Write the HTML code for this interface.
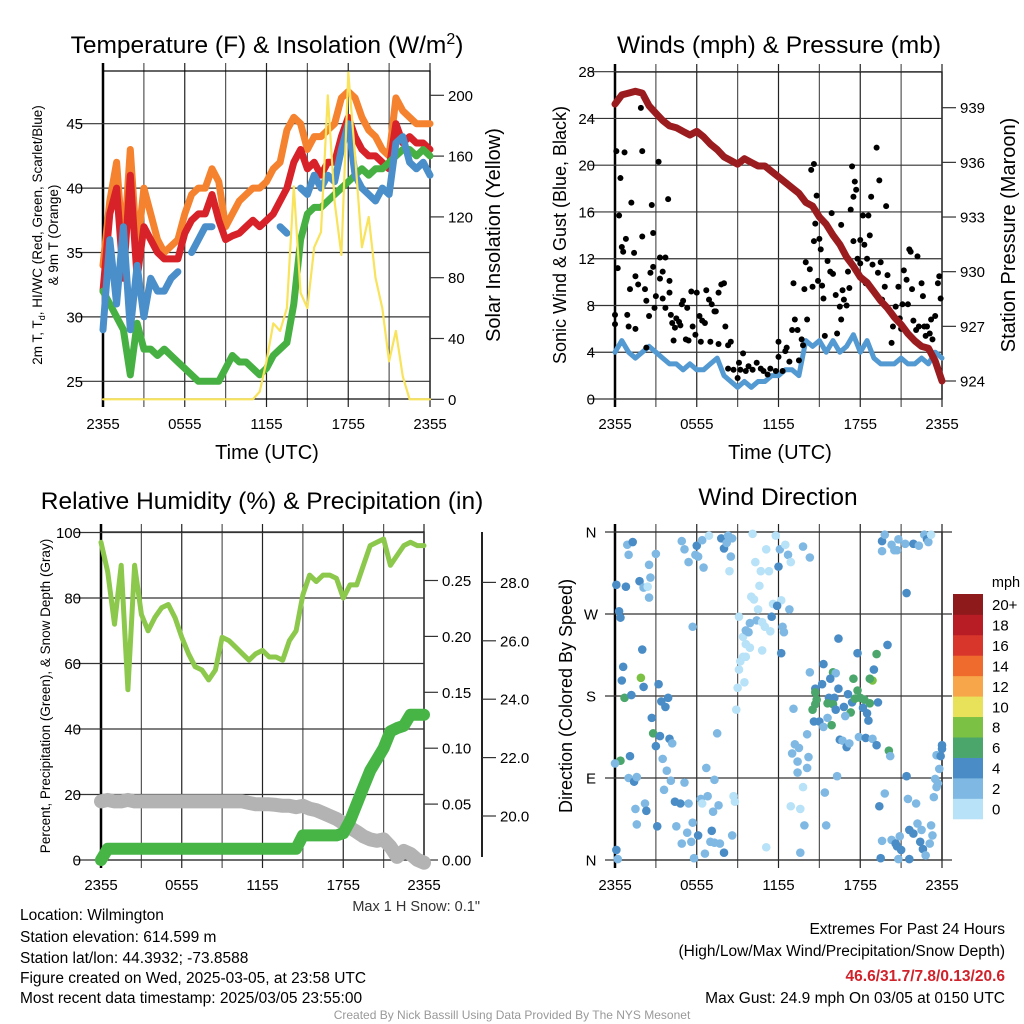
<!DOCTYPE html>
<html><head><meta charset="utf-8"><style>
html,body{margin:0;padding:0;background:#fff}
svg{display:block;font-family:"Liberation Sans",sans-serif}
</style></head><body>
<svg id="c" width="1024" height="1024" viewBox="0 0 1024 1024" xmlns="http://www.w3.org/2000/svg">
<rect width="1024" height="1024" fill="#fff"/>
<g id="marks"></g>
<g font-size="24.5" text-anchor="middle" fill="#000">
<text x="267" y="53">Temperature (F) &amp; Insolation (W/m<tspan dy="-9" font-size="16">2</tspan><tspan dy="9">)</tspan></text>
<text x="779" y="53">Winds (mph) &amp; Pressure (mb)</text>
<text x="262" y="509">Relative Humidity (%) &amp; Precipitation (in)</text>
<text x="778" y="505">Wind Direction</text>
</g>
<g font-size="20" text-anchor="middle">
<text x="267" y="459">Time (UTC)</text>
<text x="780" y="459">Time (UTC)</text>
</g>
<g font-size="13.5" text-anchor="middle">
<text transform="translate(42,235) rotate(-90)">2m T, T<tspan font-size="9" dy="3">d</tspan><tspan dy="-3">, HI/WC (Red, Green, Scarlet/Blue)</tspan></text>
<text transform="translate(58,235) rotate(-90)">&amp; 9m T (Orange)</text>
<text transform="translate(50,696) rotate(-90)">Percent, Precipitation (Green), &amp; Snow Depth (Gray)</text>
</g>
<text transform="translate(500,235) rotate(-90)" font-size="20" text-anchor="middle">Solar Insolation (Yellow)</text>
<text transform="translate(566,235) rotate(-90)" font-size="18" text-anchor="middle">Sonic Wind &amp; Gust (Blue, Black)</text>
<text transform="translate(1015,235) rotate(-90)" font-size="20" text-anchor="middle">Station Pressure (Maroon)</text>
<text transform="translate(572,696) rotate(-90)" font-size="18" text-anchor="middle">Direction (Colored By Speed)</text>
<text x="480" y="911" font-size="14.5" text-anchor="end" fill="#333">Max 1 H Snow: 0.1"</text>
<text x="1006" y="587" font-size="14.5" text-anchor="middle">mph</text>
<g font-size="15.5" fill="#000">
<text x="20" y="920">Location: Wilmington</text>
<text x="20" y="942">Station elevation: 614.599 m</text>
<text x="20" y="963">Station lat/lon: 44.3932; -73.8588</text>
<text x="20" y="983">Figure created on Wed, 2025-03-05, at 23:58 UTC</text>
<text x="20" y="1003">Most recent data timestamp: 2025/03/05 23:55:00</text>
</g>
<g font-size="15.5" text-anchor="end">
<text x="1005" y="934">Extremes For Past 24 Hours</text>
<text x="1005" y="956">(High/Low/Max Wind/Precipitation/Snow Depth)</text>
<text x="1005" y="981" fill="#d0222b" font-weight="bold">46.6/31.7/7.8/0.13/20.6</text>
<text x="1005" y="1003">Max Gust: 24.9 mph On 03/05 at 0150 UTC</text>
</g>
<text x="512" y="1019" font-size="12" fill="#999" text-anchor="middle">Created By Nick Bassill Using Data Provided By The NYS Mesonet</text>
</svg>
<script>
// ---- data (half-hour steps, hour = index*0.5) ----
const tempRed=[32,38,40,33,41,33,37,36,35,34.5,34.5,34.5,36.5,37.5,38,38,39.5,37.5,36,36.3,36.5,37,37.5,37,37.5,38,39,40,42,43,41.5,42,41,42,42,44,45.5,44,43,42.5,42.5,42,41.5,45,43.5,44,43.5,43.5,43];
const tempOrange=[34,39,42,35,43,35,40,38,36,35,35.5,36,38,39.5,40,40,41.5,40.5,37,38,39,39.5,40,40,40.5,41.5,42,44.5,45.5,45,43,44,44,44.5,45,47,47.5,47,45.5,44.5,44,43,42.5,47,46,45.5,45,45,45];
const tempBlue=[29,36,31,37,29,34,30,33,32,32,33,33.5,null,35,36,37,37,null,null,null,null,null,null,null,null,null,37,36.5,null,40,39.5,41,40,41,40.5,43,45,41,40,39.5,39,40,39.5,43.5,44,42,41.5,42,41];
const tempGreen=[32,31,30,29,25.5,29.5,27.5,27.5,27,27.5,27,26.5,26,25.5,25,25,25,25,26,27,26.5,26.5,26,25.5,26,27,27.5,28,31,36,38,38.5,38.5,39,39.5,40,40.5,41,41.5,41,41.5,41.5,42,42.5,43,43,42.5,43,42.5];
const solar=[0,0,0,0,0,0,0,0,0,0,0,0,0,0,0,0,0,0,0,0,0,0,0,5,25,50,45,60,140,70,60,100,110,200,130,95,215,160,100,120,80,60,25,45,15,0,0,0,0];
const windSpeed=[4,5,4,3.5,4,4.5,4,3.5,3,3,2.5,3,2.5,2.5,3,3.5,2,1.5,1,1.5,1,1.5,1.5,2,2,2.5,2.5,2,5,4.5,5,4,5,4,4.5,5.5,4,5,3.5,3,3,3,3.5,3,3,3.5,3,4,3.5];
const pressure=[939.2,939.7,939.8,939.9,939.8,939.1,938.7,938.3,938.0,937.9,937.7,937.5,937.7,937.4,937.0,936.7,936.3,936.1,935.9,936.2,936.0,935.8,935.8,935.5,935.2,934.9,934.6,934.3,933.8,933.6,933.0,932.6,932.0,931.5,930.8,930.3,929.7,929.4,928.9,928.4,928.0,927.5,927.1,926.6,926.2,925.9,925.8,925.1,924.0];
const gustHour=[0,0,0.1,0.2,0.3,0.4,0.5,0.6,0.7,0.8,0.9,1,1.1,1.2,1.4,1.5,1.5,1.7,1.9,2,2,2.2,2.3,2.3,2.5,2.6,2.7,2.8,2.8,2.9,3,3.2,3.3,3.3,3.5,3.5,3.7,3.7,3.9,4,4,4.1,4.2,4.3,4.4,4.5,4.7,4.8,4.9,5,5.2,5.3,5.4,5.6,5.7,5.9,6,6.2,6.3,6.4,6.6,6.7,6.9,7,7.1,7.3,7.4,7.6,7.6,7.8,8,8.1,8.3,8.3,8.5,8.7,9,9.1,9.2,9.4,9.6,9.8,10.1,10.4,10.7,10.9,11.2,11.4,11.8,12,12,12.3,12.5,12.6,12.8,13,13.1,13.2,13.4,13.5,13.7,13.8,14,13.9,14.1,14.3,14.4,14.5,14.6,14.6,14.7,14.8,14.9,15,15.1,15.2,15.3,15.4,15.6,15.8,15.9,16,16.2,16.3,16.5,16.6,16.6,16.7,16.8,17,17.1,17.2,17.3,17.4,17.5,17.5,17.6,17.7,17.8,18,18,18.2,18.3,18.4,18.5,18.6,18.7,18.8,18.9,19.2,19.3,19.4,19.5,19.6,19.8,19.9,20,20.3,20.4,20.6,20.8,20.9,21,21.1,21.2,21.4,21.5,21.6,21.7,21.8,21.9,22.1,22.2,22.3,22.5,22.6,22.7,22.8,22.9,23.1,23.2,23.3,23.5,23.7,23.8,23.9];
const gustSpeed=[7.2,6.4,21.2,11.2,15.7,18.9,13,12.6,21.1,13.7,7.2,6.2,9.4,16.8,12.5,10.5,6,9.8,24.9,13.9,21.2,9.4,8.4,4.4,7.1,10.8,16.6,11.3,14.2,7.8,8.8,20.3,12.1,10.3,10.9,8.6,12.1,7.8,17.1,10.1,9.1,7.2,6.5,5,6.1,6.9,6.6,6.3,8.1,8.4,5.1,7.8,5,9.2,6.2,5.5,9.1,7.1,4.9,6.7,6.5,9.3,8.5,4.9,8.1,7.5,7.5,4.7,9.1,9.8,9.9,6.2,4.6,2.6,4.9,2.5,1.8,3.1,2.5,3.9,2.4,2.8,2.5,3.1,2.6,2.4,2.1,2.6,2.4,3.6,4.9,2.4,4.1,4.4,3.2,5.9,9.9,6.8,5.9,3.3,5.1,4.6,11.7,9.4,6.8,11.1,19.6,9.6,20.1,13.5,15,17.4,10.1,13.7,12.8,9.7,8.6,5.4,11.8,10.9,15.9,10.7,8.9,5.6,7.9,14.9,6.8,9.3,8.5,8,10.9,9.5,16.2,19.9,17.3,13.5,18.6,17.9,12,11.6,13.6,15.7,13.2,9.9,12,15.7,14,17.3,11.5,21.5,10.8,18.7,11.7,8.5,9.6,16.5,10.6,4.8,6.2,7.9,9.6,6.9,6,8.1,11,10.2,8.1,12.8,12.6,9.4,6.7,5.9,12.2,6.2,9.9,8.8,6.2,5.4,6.2,5.6,6.8,5.1,7.1,9.9,10.5,8.6];
const humidity=[97,88,72,90,52,90,75,70,74,77,78,74,68,63,59,58,55,58,68,67,65,63,61,63,64,62,62,61,67,70,81,87,85,87,87,86,80,84,84,90,96,97,98,90,93,96,97,96,96];
const precip=[0,0.01,0.01,0.01,0.01,0.01,0.01,0.01,0.01,0.01,0.01,0.01,0.01,0.01,0.01,0.01,0.01,0.01,0.01,0.01,0.01,0.01,0.01,0.01,0.01,0.01,0.01,0.01,0.01,0.01,0.022,0.022,0.022,0.022,0.022,0.022,0.024,0.035,0.05,0.065,0.08,0.09,0.1,0.115,0.118,0.12,0.13,0.13,0.13];
const snowDepth=[20.5,20.55,20.5,20.5,20.55,20.5,20.5,20.5,20.5,20.5,20.5,20.5,20.5,20.5,20.5,20.5,20.5,20.5,20.5,20.5,20.5,20.5,20.45,20.4,20.4,20.4,20.38,20.35,20.35,20.3,20.35,20.25,20.2,20.1,20.0,19.9,19.75,19.6,19.46,19.3,19.2,19.15,19.2,18.95,18.6,18.8,18.7,18.5,18.4];
// wind direction observations: [hour, degrees, speed bin]
const dirObs=[[0.1,302,2],[0.8,300,2],[0.9,346,1],[1.3,349,2],[1,335,1],[1.8,306,2],[2.1,299,1],[2.4,300,0],[2.5,288,1],[2.5,324,1],[2.6,310,1],[3,336,1],[0.3,273,2],[0.4,266,2],[2,231,2],[0.6,212,2],[0.5,197,2],[1.9,200,4],[2.1,190,2],[0.7,178,3],[1.2,181,2],[3.2,193,2],[3.4,174,2],[3.7,168,2],[3.9,178,2],[2.7,156,2],[2.8,139,3],[3.3,136,2],[4,133,2],[4.2,128,1],[3,125,2],[1.1,114,2],[0.4,109,3],[0,106,1],[3.5,111,1],[3.8,98,1],[1,90,1],[1.4,86,2],[1.6,91,1],[3.6,77,1],[4.1,87,1],[5.1,85,1],[2.2,62,1],[1.5,56,1],[2.3,54,2],[1.6,39,1],[3.1,37,2],[4.4,64,2],[4.8,62,2],[5.4,62,1],[4.5,37,1],[5.3,30,1],[4.9,18,1],[5.6,20,1],[5.7,41,1],[6.1,27,2],[6.3,67,1],[6.4,62,0],[6.8,70,1],[6.7,101,1],[7.3,88,1],[7.1,32,2],[7,20,1],[6.6,7,1],[7.2,53,1],[7.6,60,1],[7.3,19,1],[7.7,18,1],[8,8,2],[8.7,70,0],[8.8,64,0],[8.6,27,1],[5.8,2,1],[0.1,11,2],[0.2,1,1],[7.5,139,1],[5.7,256,1],[4.9,350,1],[5.1,341,1],[5.4,327,1],[6,345,2],[5.9,335,1],[6.1,333,1],[6.5,321,1],[6.4,351,1],[6.9,356,0],[7.8,353,2],[8,342,2],[8.2,348,1],[8.3,356,1],[8.6,353,1],[8.5,333,1],[8.4,317,0],[10.1,358,0],[10.3,327,0],[10.7,317,0],[11.1,341,0],[11.3,317,0],[11.8,356,0],[12.1,341,1],[12,322,2],[12.5,346,0],[12.7,335,1],[12.9,327,0],[13.8,344,1],[14.3,332,1],[10.6,301,0],[10,289,0],[10.2,286,0],[10.5,275,0],[11.6,281,0],[12.2,285,0],[11.9,279,2],[12.8,275,1],[11.5,267,2],[9.1,267,0],[9.9,260,1],[10.4,263,1],[10.8,261,0],[11,256,0],[11.4,251,0],[12.3,256,1],[12.4,250,1],[9.4,245,0],[9.6,252,1],[9.8,250,1],[9.6,237,0],[9.9,233,0],[10.8,230,0],[9.4,223,0],[9.6,223,0],[9.2,218,0],[9.1,209,0],[9.5,195,0],[9,189,0],[8.9,165,0],[12.2,227,2],[13.1,166,1],[14.1,138,1],[14.3,206,1],[13.2,127,1],[13,117,1],[13.4,108,1],[14.2,113,1],[13.5,123,1],[14.1,101,1],[13.4,96,1],[13.8,80,0],[12.9,59,0],[13.6,56,0],[13.9,38,1],[13.6,8,1],[11.1,14,0],[15.4,74,1],[15.5,38,1],[16.3,92,1],[16.4,243,2],[17.8,227,2],[19.2,226,3],[20,236,2],[19,209,2],[15.3,215,2],[16,206,3],[16.2,205,1],[15.8,199,2],[17.5,199,3],[18.9,197,4],[18.7,199,3],[15.2,193,2],[14.7,188,2],[14.7,184,3],[16.4,188,2],[17.1,182,2],[17.8,186,3],[15.7,178,2],[16.1,178,2],[14.8,176,3],[15.6,172,3],[16,171,3],[16.8,168,2],[17.4,173,2],[17.6,177,3],[18,178,3],[18.3,176,3],[18.7,172,3],[19.3,173,2],[14.7,171,3],[14.5,165,3],[16.2,165,2],[17.3,162,3],[18.2,167,2],[18.5,161,2],[16.9,158,1],[14.6,152,2],[15,152,2],[15.6,156,1],[15.9,148,3],[15.3,146,1],[18.6,153,2],[16.5,132,2],[16.7,131,1],[17,124,2],[17.2,128,1],[17.9,135,1],[18.4,134,2],[18.9,133,1],[19.2,126,2],[20.1,120,3],[20.2,114,1],[19.8,73,1],[19.4,59,2],[19.6,21,1],[19.5,2,2],[21.4,92,2],[21.5,67,1],[22.1,62,1],[20.9,26,1],[21.6,33,2],[21.9,29,2],[22.2,40,1],[22.5,33,1],[22.4,20,2],[22.6,12,2],[22.8,5,1],[21.6,1,2],[20.7,15,2],[20.3,22,1],[20.6,18,2],[21,11,2],[20.8,1,1],[23.1,18,1],[23.3,27,1],[23.2,38,1],[23.4,69,1],[23.6,80,1],[23.7,84,1],[23.5,89,1],[23.8,100,1],[23.6,115,1],[23.9,114,2],[24,126,2],[24,122,2],[21.4,293,2],[19.6,350,2],[19.6,339,1],[20.3,346,1],[20.5,340,1],[20.7,340,1],[20.8,352,1],[19.8,357,1],[21.3,347,1],[21.9,347,2],[22.3,345,1],[22.7,357,1],[22.9,352,2],[23,349,1],[23.2,357,0]];
const tempTicks=[25,30,35,40,45];
const solarTicks=[0,40,80,120,160,200];
const windTicks=[0,4,8,12,16,20,24,28];
const pressTicks=[924,927,930,933,936,939];
const rhTicks=[0,20,40,60,80,100];
const precipTicks=[0,0.05,0.1,0.15,0.2,0.25];
const snowTicks=[20,22,24,26,28];
const dirTicks=[[0,'N'],[90,'E'],[180,'S'],[270,'W'],[360,'N']];
const timeLabels=['2355','0555','1155','1755','2355'];
const speedBins=['0','2','4','6','8','10','12','14','16','18','20+'];
const binColors=['#b8e2f7','#7fb9e3','#4a8dc6','#4aa66b','#7bc143','#e8e25a','#f7a649','#ee6a2d','#d8362b','#b81d25','#8e1a1c'];

// ---- axes ----
const NS='http://www.w3.org/2000/svg';
const root=document.getElementById('marks');
function el(tag,attrs,parent){const e=document.createElementNS(NS,tag);for(const k in attrs)e.setAttribute(k,attrs[k]);(parent||root).appendChild(e);return e;}
const P1={x0:103,x1:430,y0:71,y1:399}, P2={x0:615,x1:942,y0:72,y1:399}, P3={x0:101,x1:424,y0:532,y1:860}, P4={x0:615,x1:942,y0:532,y1:860};
const xs=(P,h)=>P.x0+(P.x1-P.x0)*h/24;
const tY=v=>381.3-(v-25)*12.88, sY=v=>399.3-v*1.52;
const wY=v=>399-v*11.69, pY=v=>381-(v-924)*18.22;
const rY=v=>860-v*3.275, prY=v=>860-v*1118, snY=v=>816-(v-20)*29.2;
const dY=d=>860-d*328/360;

function frame(P,name){
  const g=el('g',{});
  
  
  for(let h=0;h<=24;h+=3){const x=xs(P,h);
    const l=el('line',{x1:x,x2:x,y1:P.y0-8,y2:P.y1+8,stroke:(h%6?'#555':'#222'),'stroke-width':1.2},g);
    }
  for(let i=0;i<5;i++){const t=el('text',{x:xs(P,i*6),y:P.y1+30,'font-size':15,'text-anchor':'middle'},g);t.textContent=timeLabels[i];
    }
  el('rect',{x:P.x0,y:P.y0,width:P.x1-P.x0,height:P.y1-P.y0,fill:'none',stroke:'#000','stroke-width':1.2},g);
  el('line',{x1:P.x0,x2:P.x0,y1:P.y0-8,y2:P.y1+8,stroke:'#000','stroke-width':2.5},g);
}
function yaxis(P,ticks,f,side,fmt,name,ax){
  const g=el('g',{});
  
  
  const X=ax!==undefined?ax:(side<0?P.x0:P.x1);
  ticks.forEach(v=>{const y=f(v);
    if(side<0){const l=el('line',{x1:P.x0-26,x2:P.x1,y1:y,y2:y,stroke:'#333','stroke-width':1.2},g);
      }
    else el('line',{x1:X,x2:X+14,y1:y,y2:y,stroke:'#333','stroke-width':1.2},g);
    const t=el('text',{x:side<0?X-20:X+18,y:y+5.5,'font-size':15,'text-anchor':side<0?'end':'start'},g);
    t.textContent=fmt(v);});
}
frame(P1,'temperature');frame(P2,'wind');frame(P3,'humidity');frame(P4,'direction');
yaxis(P1,tempTicks,tY,-1,v=>v,'temp-y-axis');
yaxis(P1,solarTicks,sY,1,v=>v,'solar-y-axis');
yaxis(P2,windTicks,wY,-1,v=>v,'wind-y-axis');
yaxis(P2,pressTicks,pY,1,v=>v,'pressure-y-axis');
yaxis(P3,rhTicks,rY,-1,v=>v,'humidity-y-axis');
yaxis(P3,precipTicks,prY,1,v=>v.toFixed(2),'precip-y-axis');
el('line',{x1:482,x2:482,y1:532,y2:857,stroke:'#222','stroke-width':2});
yaxis(P3,snowTicks,snY,1,v=>v.toFixed(1),'snow-y-axis',482);
dirTicks.forEach(d=>{const y=dY(d[0]);
  const l=el('line',{x1:P4.x0-10,x2:P4.x1+10,y1:y,y2:y,stroke:'#333','stroke-width':1.2});
  
  const t=el('text',{x:591,y:y+5.5,'font-size':15,'text-anchor':'middle'});t.textContent=d[1];
  });

// ---- series ----
function line(P,arr,f,color,w,name){
  let d='',pen=false;
  arr.forEach((v,i)=>{if(v===null){pen=false;return;}d+=(pen?'L':'M')+xs(P,i*0.5).toFixed(1)+','+f(v).toFixed(1);pen=true;});
  const p=el('path',{d:d,fill:'none',stroke:color,'stroke-width':w,'stroke-linejoin':'round','stroke-linecap':'round'});
  
  
}
line(P1,tempOrange,tY,'#f5822f',7,'line-9m-temp');
line(P1,tempRed,tY,'#d62228',7,'line-2m-temp');
line(P1,tempGreen,tY,'#47b043',7,'line-dewpoint');
line(P1,tempBlue,tY,'#4a8fca',7,'line-windchill');
line(P1,solar,sY,'#f8e35b',2.2,'line-solar');
line(P2,windSpeed,wY,'#5399d2',5,'line-wind-speed');
gustHour.forEach((h,i)=>{const c=el('circle',{cx:xs(P2,h),cy:wY(gustSpeed[i]),r:3,fill:'#000'});
  });
line(P2,pressure,pY,'#9b1c1f',7,'line-pressure');
line(P3,humidity,rY,'#8cc84b',5,'line-humidity');
line(P3,snowDepth,snY,'#b3b3b3',14,'line-snow-depth');
line(P3,precip,prY,'#46b546',12,'line-precipitation');
dirObs.forEach(o=>{const c=el('circle',{cx:xs(P4,o[0]),cy:dY(o[1]),r:4.3,fill:binColors[o[2]]});
  });
speedBins.forEach((lab,i)=>{const y=798.5-i*20.45;
  const r=el('rect',{x:953,y:y,width:30,height:20.8,fill:binColors[i]});
  
  const t=el('text',{x:992,y:y+16,'font-size':15});t.textContent=lab;
  });
</script>
</body></html>
